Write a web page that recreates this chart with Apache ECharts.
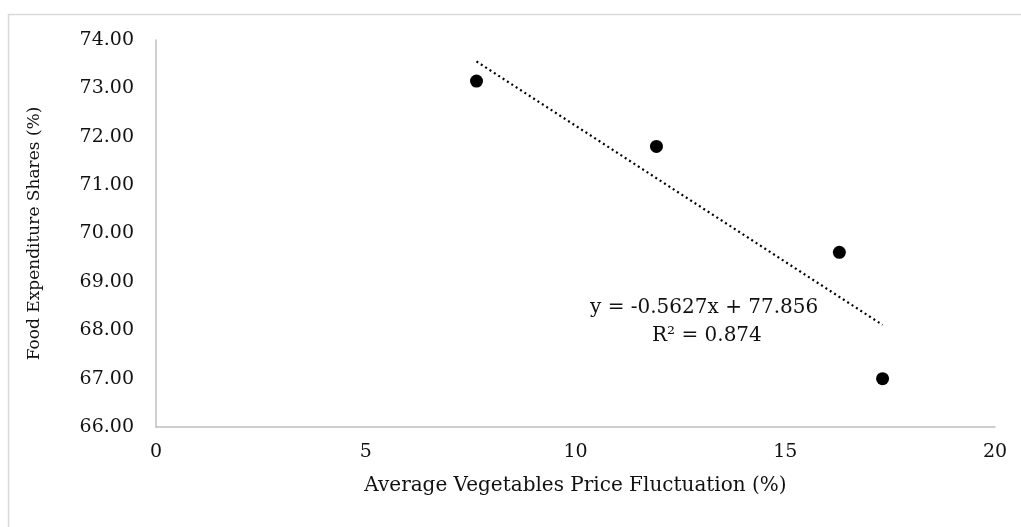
<!DOCTYPE html>
<html>
<head>
<meta charset="utf-8">
<script src="https://cdn.jsdelivr.net/npm/echarts@6/dist/echarts.min.js"></script>
<style>html,body{margin:0;padding:0;background:#fff;}#c{width:1021px;height:527px;}</style>
</head>
<body>
<div id="c"></div>
<script>
var xValues = [7.64, 11.93, 16.29, 17.32];
var yValues = [73.15, 71.80, 69.61, 67.00];
var trendSlope = -0.5627;
var trendIntercept = 77.856;
var xTicks = [0, 5, 10, 15, 20];
var yTicks = [66, 67, 68, 69, 70, 71, 72, 73, 74];
var xTitle = 'Average Vegetables Price Fluctuation (%)';
var yTitle = 'Food Expenditure Shares (%)';
var eqText = 'y = -0.5627x + 77.856';
var r2Text = 'R\u00b2 = 0.874';

var pts = xValues.map(function (x, i) { return [x, yValues[i]]; });
var xMin = Math.min.apply(null, xValues), xMax = Math.max.apply(null, xValues);
var trend = [[xMin, trendSlope * xMin + trendIntercept], [xMax, trendSlope * xMax + trendIntercept]];
var font = '"DejaVu Serif", serif';

var chart = echarts.init(document.getElementById('c'));
chart.setOption({
  animation: false,
  backgroundColor: '#fff',
  grid: { left: 156, right: 26, top: 40, bottom: 100 },
  xAxis: {
    type: 'value', min: xTicks[0], max: xTicks[xTicks.length - 1], interval: 5,
    axisLine: { show: true, lineStyle: { color: '#bfbfbf', width: 1.5 } },
    axisTick: { show: false }, splitLine: { show: false },
    axisLabel: { color: '#111', fontFamily: font, fontSize: 19, margin: 16 },
    name: xTitle, nameLocation: 'middle', nameGap: 49,
    nameTextStyle: { color: '#111', fontFamily: font, fontSize: 20 }
  },
  yAxis: {
    type: 'value', min: yTicks[0], max: yTicks[yTicks.length - 1], interval: 1,
    axisLine: { show: true, lineStyle: { color: '#bfbfbf', width: 1.5 } },
    axisTick: { show: false }, splitLine: { show: false },
    axisLabel: { color: '#111', fontFamily: font, fontSize: 19, margin: 22,
      formatter: function (v) { return v.toFixed(2); } },
    name: yTitle, nameLocation: 'middle', nameGap: 113, nameRotate: 90,
    nameTextStyle: { color: '#111', fontFamily: font, fontSize: 17 }
  },
  graphic: [
    { type: 'rect', silent: true, shape: { x: 8.5, y: 14.5, width: 1030, height: 530 },
      style: { fill: 'none', stroke: '#d9d9d9', lineWidth: 1.5 } },
    { type: 'text', left: 590, top: 298, style: { text: eqText, fill: '#111', font: '20px ' + font } },
    { type: 'text', left: 652, top: 326, style: { text: r2Text, fill: '#111', font: '20px ' + font } }
  ],
  series: [
    { type: 'line', data: trend, symbol: 'none', silent: true,
      lineStyle: { color: '#000', width: 2.2, type: [2, 3.2] }, z: 1 },
    { type: 'scatter', data: pts, symbol: 'circle', symbolSize: 13,
      itemStyle: { color: '#000', opacity: 1 }, z: 2 }
  ]
});
</script>
</body>
</html>
